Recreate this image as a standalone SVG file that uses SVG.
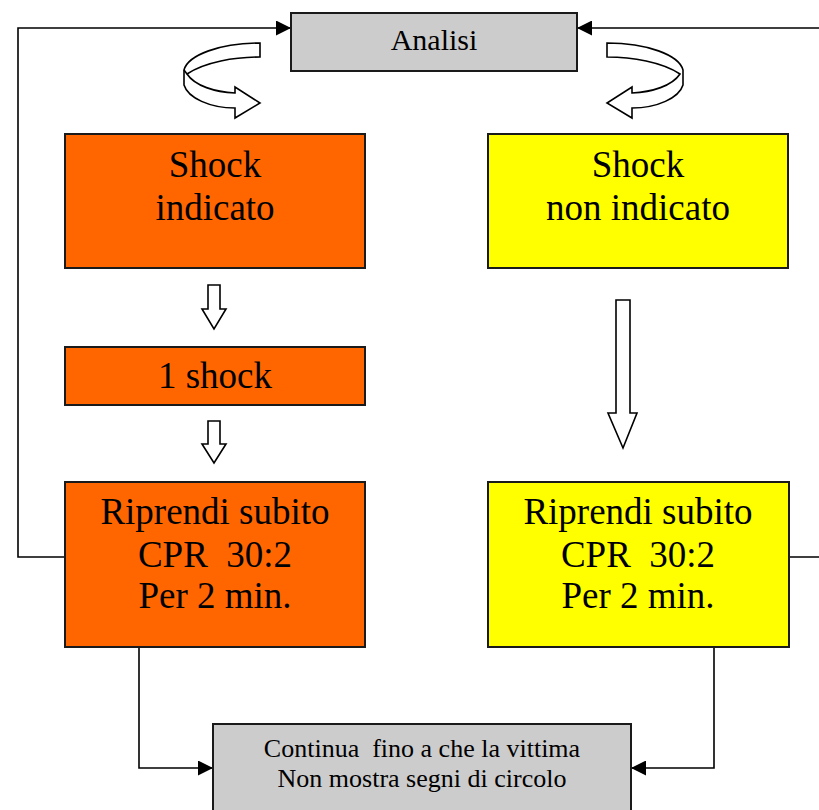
<svg xmlns="http://www.w3.org/2000/svg" width="819" height="810" viewBox="0 0 819 810">
<defs>
<style>
.box{stroke:#1a1a1a;stroke-width:2}
.orange{fill:#ff6600}
.yellow{fill:#ffff00}
.gray{fill:#cccccc}
.big{font-family:"Liberation Serif","Times New Roman",serif;font-size:37px;fill:#000;text-anchor:middle}
.mid{font-family:"Liberation Serif","Times New Roman",serif;font-size:30px;fill:#000;text-anchor:middle}
.small{font-family:"Liberation Serif","Times New Roman",serif;font-size:26px;fill:#000;text-anchor:middle}
.conn{fill:none;stroke:#000;stroke-width:1.6}
.blk{fill:#fff;stroke:#000;stroke-width:1.6;stroke-linejoin:miter}
</style>
<marker id="ah" viewBox="0 0 10 10" refX="10" refY="5" markerWidth="15" markerHeight="15" markerUnits="userSpaceOnUse" orient="auto">
<path d="M0,0 L10,5 L0,10 Z" fill="#000"/>
</marker>
</defs>
<rect width="819" height="810" fill="#fff"/>

<g id="connectors">
<path class="conn" d="M65,557 H18 V28 H291" marker-end="url(#ah)"/>
<path class="conn" d="M789,557 H830 V28 H577" marker-end="url(#ah)"/>
<path class="conn" d="M139,647 V768 H213" marker-end="url(#ah)"/>
<path class="conn" d="M714,647 V768 H631" marker-end="url(#ah)"/>
<path id="curve-left" class="blk" d="M260,43 L260,57 C235,57 205,62 187,74 C195,86 215,92 235,93 L235,87 L260,103 L235,118 L235,108 C210,108 188,98 184,85 L184,70 C188,55 220,43 260,43 Z"/>
<path class="blk" fill="none" d="M187,74 L184,70"/>
<use href="#curve-left" transform="translate(867,0) scale(-1,1)"/>
<path class="blk" d="M208,285 H220 V309 H226 L214,329 L202,309 H208 Z"/>
<path class="blk" d="M208,421 H220 V444 H226 L214,463 L202,444 H208 Z"/>
<path class="blk" d="M616,300 H630 V413 H637 L623,448 L608,413 H616 Z"/>
</g>

<g id="analisi">
<rect class="box gray" x="291" y="13" width="286" height="58"/>
<text class="mid" x="434" y="50">Analisi</text>
</g>

<g id="shock-indicato">
<rect class="box orange" x="65" y="134" width="300" height="134"/>
<text class="big" x="215" y="177">Shock</text>
<text class="big" x="215" y="220">indicato</text>
</g>

<g id="shock-non-indicato">
<rect class="box yellow" x="488" y="134" width="300" height="134"/>
<text class="big" x="638" y="177">Shock</text>
<text class="big" x="638" y="220">non indicato</text>
</g>

<g id="uno-shock">
<rect class="box orange" x="65" y="347" width="300" height="58"/>
<text class="big" x="215" y="388">1 shock</text>
</g>

<g id="riprendi-sx">
<rect class="box orange" x="65" y="482" width="300" height="165"/>
<text class="big" x="215" y="524">Riprendi subito</text>
<text class="big" x="215" y="567" xml:space="preserve">CPR  30:2</text>
<text class="big" x="215" y="608">Per 2 min.</text>
</g>

<g id="riprendi-dx">
<rect class="box yellow" x="488" y="482" width="301" height="165"/>
<text class="big" x="638" y="524">Riprendi subito</text>
<text class="big" x="638" y="567" xml:space="preserve">CPR  30:2</text>
<text class="big" x="638" y="608">Per 2 min.</text>
</g>

<g id="continua">
<rect class="box gray" x="213" y="724" width="418" height="100"/>
<text class="small" x="422" y="757" xml:space="preserve">Continua  fino a che la vittima</text>
<text class="small" x="422" y="787">Non mostra segni di circolo</text>
</g>
</svg>
